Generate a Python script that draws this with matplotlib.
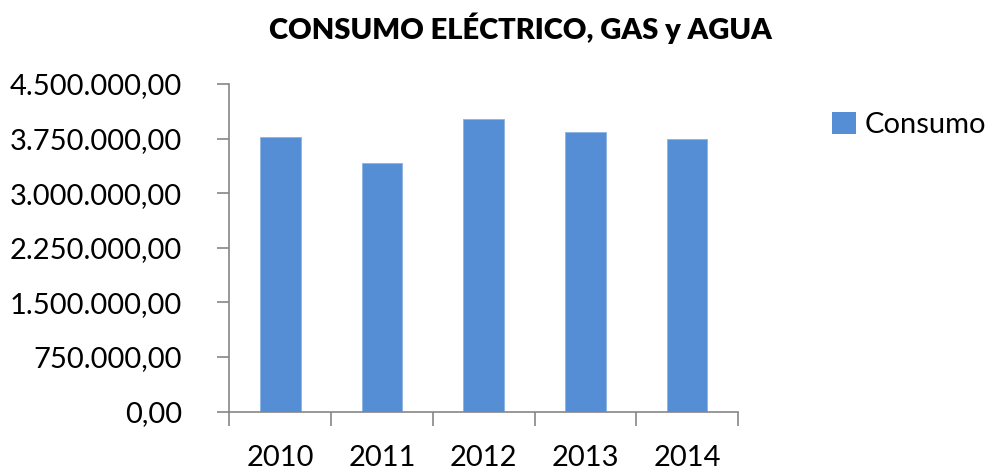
import matplotlib
matplotlib.use('Agg')
import matplotlib.pyplot as plt
from matplotlib.ticker import FuncFormatter
from matplotlib.patches import Patch

years = ['2010', '2011', '2012', '2013', '2014']
consumo = [3766000, 3409000, 4022000, 3844000, 3739000]
y_ticks = [0, 750000, 1500000, 2250000, 3000000, 3750000, 4500000]

bar_color = '#558ED5'
axis_color = '#868686'

plt.rcParams['font.family'] = ['Lato', 'DejaVu Sans']


def es_format(v, pos=None):
    s = f"{v:,.2f}"
    return s.replace(',', 'X').replace('.', ',').replace('X', '.')


fig = plt.figure(figsize=(10.03, 4.71), dpi=100)
ax = fig.add_axes([0.2288, 0.1263, 0.507, 0.6954])

x = range(len(years))
ax.bar(x, consumo, width=0.4, color=bar_color, edgecolor='#8db3e2', linewidth=0.6)

ax.set_xlim(-0.5, len(years) - 0.5)
ax.set_ylim(0, 4500000)
ax.set_yticks(y_ticks)
ax.yaxis.set_major_formatter(FuncFormatter(es_format))
ax.set_xticks([i - 0.5 for i in range(len(years) + 1)], minor=False)
ax.set_xticklabels([])
ax.set_xticks(list(x), minor=True)
ax.set_xticklabels(years, minor=True)
ax.tick_params(axis='x', which='minor', length=0, pad=24, labelsize=21)
ax.tick_params(axis='x', which='major', length=10, width=1.2, color=axis_color)
ax.tick_params(axis='y', length=9, width=1.2, color=axis_color, pad=25, labelsize=21)

for side in ['top', 'right']:
    ax.spines[side].set_visible(False)
for side in ['left', 'bottom']:
    ax.spines[side].set_color(axis_color)
    ax.spines[side].set_linewidth(1.2)

fig.text(0.519, 0.94, 'CONSUMO ELÉCTRICO, GAS y AGUA', ha='center', va='center',
         fontsize=21, fontweight='heavy')

handles = [Patch(facecolor=bar_color, label='Consumo')]
fig.legend(handles=handles, loc='center left', bbox_to_anchor=(0.83, 0.735),
           frameon=False, fontsize=21, handlelength=0.8, handleheight=0.8,
           handletextpad=0.3, borderpad=0, borderaxespad=0)

plt.savefig('out.png', dpi=100)
plt.close()
